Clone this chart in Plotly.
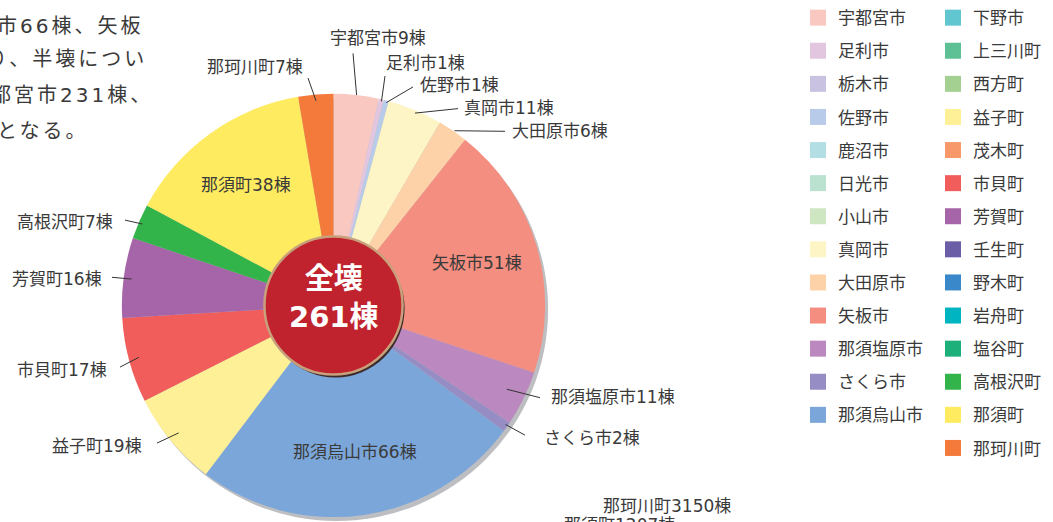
import math
import plotly.graph_objects as go

# ---------------- data ----------------
slice_names = ["宇都宮市", "足利市", "佐野市", "真岡市", "大田原市", "矢板市",
               "那須塩原市", "さくら市", "那須烏山市", "益子町", "市貝町",
               "芳賀町", "高根沢町", "那須町", "那珂川町"]
slice_values = [9, 1, 1, 11, 6, 51, 11, 2, 66, 19, 17, 16, 7, 38, 7]

legend_left_names = ["宇都宮市", "足利市", "栃木市", "佐野市", "鹿沼市", "日光市",
                     "小山市", "真岡市", "大田原市", "矢板市", "那須塩原市",
                     "さくら市", "那須烏山市"]
legend_right_names = ["下野市", "上三川町", "西方町", "益子町", "茂木町", "市貝町",
                      "芳賀町", "壬生町", "野木町", "岩舟町", "塩谷町", "高根沢町",
                      "那須町", "那珂川町"]

center_title = "全壊"
center_total = "261棟"

top_text_lines = ["市66棟、矢板", "り、半壊につい", "宇都宮市231棟、", "となる。"]
bottom_text_lines = ["那珂川町3150棟", "那須町1207棟"]

# ---------------- styles ----------------
colors = {
    "宇都宮市": "#F9C9C1", "足利市": "#E2C6DF", "栃木市": "#C9C3E1", "佐野市": "#B8CBE9",
    "鹿沼市": "#B3DFE4", "日光市": "#BBE2D0", "小山市": "#CFE6C3", "真岡市": "#FDF5C5",
    "大田原市": "#FDD2A8", "矢板市": "#F48E80", "那須塩原市": "#BB88BF", "さくら市": "#968DC4",
    "那須烏山市": "#7BA6D9", "下野市": "#62C6D0", "上三川町": "#5EC196", "西方町": "#A4D192",
    "益子町": "#FEF097", "茂木町": "#F7986A", "市貝町": "#F15D5B", "芳賀町": "#A765A9",
    "壬生町": "#6B5EA7", "野木町": "#3A88C9", "岩舟町": "#00B5C1", "塩谷町": "#1DB07B",
    "高根沢町": "#33B44A", "那須町": "#FEEB5F", "那珂川町": "#F47A3C",
}

FONT = "Noto Sans CJK JP, Noto Sans, sans-serif"
FONT_WIDE = "DejaVu Sans, Noto Sans CJK JP, sans-serif"   # wide digits, CJK fallback
TXT = "#3a3a3a"
W, H = 1053, 522
CX, CY, R = 333.5, 302.5, 214.5   # pie centre / radius in px
RC = 70                            # centre disc radius


def px(x):
    return x / W


def py(y):
    return 1 - y / H


def dom(cx, cy, r):
    return dict(x=[px(cx - r), px(cx + r)], y=[py(cy + r), py(cy - r)])


fig = go.Figure()

# drop shadow of the pie
fig.add_trace(go.Pie(values=[1], labels=["shadow"], domain=dom(CX + 3, CY + 4, R),
                     marker=dict(colors=["#BDBEC1"], line=dict(width=0)),
                     textinfo="none", hoverinfo="skip", showlegend=False, sort=False))

# main pie
fig.add_trace(go.Pie(values=slice_values, labels=slice_names, domain=dom(CX, CY, R),
                     marker=dict(colors=[colors[n] for n in slice_names], line=dict(width=0)),
                     direction="clockwise", rotation=0, sort=False,
                     textinfo="none", showlegend=False,
                     hovertemplate="%{label}: %{value}棟<extra></extra>"))

# centre disc shadow + disc
fig.add_trace(go.Pie(values=[1], labels=["c-shadow"], domain=dom(CX + 2, CY + 3, RC),
                     marker=dict(colors=["#3b2b2b"], line=dict(width=0)),
                     textinfo="none", hoverinfo="skip", showlegend=False))
fig.add_trace(go.Pie(values=[1], labels=["centre"], domain=dom(CX, CY, RC),
                     marker=dict(colors=["#C0232D"], line=dict(color="#C9A07C", width=2.5)),
                     textinfo="none", hoverinfo="skip", showlegend=False))

# legend entries (two columns)
for leg, names in (("legend", legend_left_names), ("legend2", legend_right_names)):
    for n in names:
        fig.add_trace(go.Scatter(x=[None], y=[None], mode="markers", name=n,
                                 legendgroup=n, legend=leg,
                                 marker=dict(symbol="square", size=16, color=colors[n])))

# ---------------- labels ----------------
total = sum(slice_values)
mid_angle = {}
acc = 0
for n, v in zip(slice_names, slice_values):
    mid_angle[n] = (acc + v / 2) / total * 2 * math.pi
    acc += v


def on_pie(n, frac):
    a = mid_angle[n]
    return CX + frac * R * math.sin(a), CY - frac * R * math.cos(a)


inside = ["矢板市", "那須烏山市", "那須町"]
# name: (head radius fraction, tail px, text px, xanchor)
outside = {
    "宇都宮市": (1.0, (353, 47), (378, 31), "center"),
    "足利市": (0.99, (385, 70), (384, 57), "left"),
    "佐野市": (0.99, (413, 81), (418, 79), "left"),
    "真岡市": (0.985, (458, 103), (462, 102), "left"),
    "大田原市": (1.0, (505, 126), (510, 126), "left"),
    "那須塩原市": (0.9, (540, 396), (549, 395), "left"),
    "さくら市": (0.98, (525, 434), (542, 437), "left"),
    "益子町": (0.94, (157, 442), (144, 445), "right"),
    "市貝町": (0.94, (120, 365), (109, 368), "right"),
    "芳賀町": (0.95, (112, 274), (104, 276), "right"),
    "高根沢町": (0.97, (125, 216), (115, 218), "right"),
    "那珂川町": (0.97, (308, 72), (255, 61), "center"),
}

annotations = []
shapes = []


def note(x, y, text, xa, size, color=TXT, family=FONT_WIDE):
    annotations.append(dict(xref="paper", yref="paper", x=px(x), y=py(y), text=text,
                            showarrow=False, xanchor=xa, yanchor="middle",
                            font=dict(size=size, color=color, family=family)))


for n, v in zip(slice_names, slice_values):
    label = f"{n}{v}棟"
    if n in inside:
        x, y = on_pie(n, 0.7)
        note(x, y, label, "center", 17)
    else:
        frac, tail, tpos, xa = outside[n]
        hx, hy = on_pie(n, frac)
        shapes.append(dict(type="line", xref="paper", yref="paper",
                           x0=px(hx), y0=py(hy), x1=px(tail[0]), y1=py(tail[1]),
                           line=dict(color="#333333", width=1), layer="above"))
        note(tpos[0], tpos[1], label, xa, 17)

# centre text
note(CX, CY - 8, f"<b>{center_title}</b><br><b>{center_total}</b>", "center", 29, "white")

# cropped paragraph text (top-left) and bottom text
top_pos = [(-5, 19, "left"), (149, 53, "right"), (155, 89, "right"), (-5, 126, "left")]
for t, (x, y, xa) in zip(top_text_lines, top_pos):
    note(x, y, f'<span style="letter-spacing:3px">{t}</span>', xa, 20)
bottom_pos = [(601, 506), (562, 525)]
for t, (x, y) in zip(bottom_text_lines, bottom_pos):
    note(x, y, t, "left", 17)

legend_common = dict(yanchor="top", xanchor="left", bgcolor="rgba(0,0,0,0)",
                     font=dict(size=17, color=TXT, family=FONT),
                     tracegroupgap=8, itemwidth=30, itemclick=False, itemdoubleclick=False,
                     maxheight=520)

fig.update_layout(
    width=W, height=H,
    margin=dict(l=0, r=0, t=0, b=0),
    paper_bgcolor="white", plot_bgcolor="rgba(0,0,0,0)",
    xaxis=dict(visible=False), yaxis=dict(visible=False),
    annotations=annotations, shapes=shapes,
    legend=dict(x=px(798), y=py(-7), **legend_common),
    legend2=dict(x=px(933), y=py(-7), **legend_common),
    font=dict(family=FONT),
)

fig.write_html("out.html", config={"displayModeBar": False},
               post_script="document.body.style.margin='0';document.body.style.overflow='hidden';")
